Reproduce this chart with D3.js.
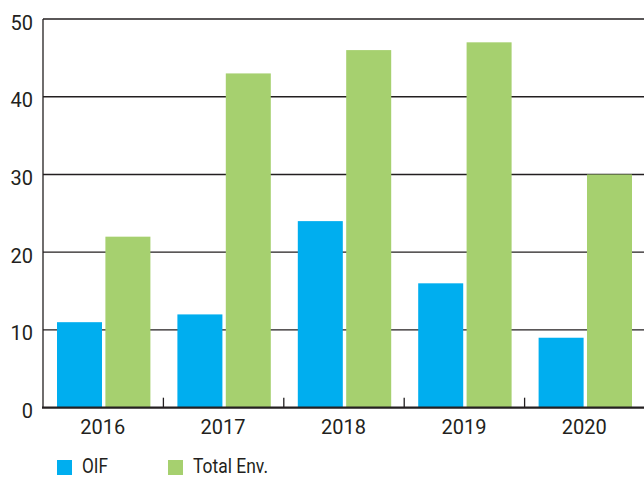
<!DOCTYPE html>
<meta charset="utf-8">
<style>
    body { margin: 0; background: #fff; }
    text { fill: #231f20; }
</style>
<svg width="644" height="477"></svg>
<script src="https://d3js.org/d3.v7.min.js"></script>
<script>

    var years = ["2016", "2017", "2018", "2019", "2020"];
    var oif = [11, 12, 24, 16, 9];
    var totalEnv = [22, 43, 46, 47, 30];
    var yTicks = [0, 10, 20, 30, 40, 50];
    var seriesNames = ["OIF", "Total Env."];
    var colors = ["#00aeef", "#a6d06f"];

    var font = "Roboto, 'Liberation Sans', sans-serif";

    var svg = d3.select("svg"),
        margin = {top: 19, left: 43, bottom: 69},
        height = +svg.attr("height") - margin.top - margin.bottom;

    var x = d3.scaleBand().domain(years).range([43, 645]);
    var y = d3.scaleLinear().domain([0, 50]).range([margin.top + height - 0.3, margin.top]);

    // inner scale for the two bars in each year
    var xs = d3.scaleBand().domain(seriesNames).range([14, x.bandwidth() - 13]).paddingInner(0.07);

    // gridlines
    svg.append("g").selectAll("line")
        .data(yTicks.slice(1))
        .join("line")
        .attr("x1", 43).attr("x2", 645)
        .attr("y1", function(d) { return y(d); })
        .attr("y2", function(d) { return y(d); })
        .attr("stroke", "#231f20")
        .attr("stroke-width", 1.3);

    var rows = years.map(function(yr, i) { return {year: yr, values: [oif[i], totalEnv[i]]}; });

    svg.append("g").selectAll("g")
        .data(rows)
        .join("g")
        .attr("transform", function(d) { return "translate(" + x(d.year) + ",0)"; })
        .selectAll("rect")
        .data(function(d) { return d.values.map(function(v, j) { return {name: seriesNames[j], value: v, c: colors[j]}; }); })
        .join("rect")
        .attr("x", function(d) { return xs(d.name); })
        .attr("width", xs.bandwidth())
        .attr("y", function(d) { return y(d.value); })
        .attr("height", function(d) { return y(0) - y(d.value); })
        .attr("fill", function(d) { return d.c; });

    // y axis line
    svg.append("line")
        .attr("x1", 43).attr("x2", 43)
        .attr("y1", y(50)).attr("y2", y(0))
        .attr("stroke", "#231f20").attr("stroke-width", 1.3);

    // baseline
    svg.append("line")
        .attr("x1", 42).attr("x2", 645)
        .attr("y1", y(0)).attr("y2", y(0))
        .attr("stroke", "#231f20").attr("stroke-width", 2.2);

    // category separator ticks
    svg.append("g").selectAll("line")
        .data(years.slice(1))
        .join("line")
        .attr("x1", function(d) { return x(d); })
        .attr("x2", function(d) { return x(d); })
        .attr("y1", y(0) - 10).attr("y2", y(0))
        .attr("stroke", "#231f20").attr("stroke-width", 1.3);

    // y labels
    svg.append("g").selectAll("text")
        .data(yTicks)
        .join("text")
        .attr("x", 33)
        .attr("y", function(d) { return y(d) + 10.5; })
        .attr("text-anchor", "end")
        .attr("font-family", font)
        .attr("font-size", 20)
        .text(function(d) { return d; });

    // x labels
    svg.append("g").selectAll("text")
        .data(years)
        .join("text")
        .attr("x", function(d) { return x(d) + x.bandwidth() / 2 - 0.5; })
        .attr("y", 433.5)
        .attr("text-anchor", "middle")
        .attr("font-family", font)
        .attr("font-size", 20)
        .text(function(d) { return d; });

    // legend
    var legendX = [57, 168];
    var legendW = [26, 75];
    var legend = svg.append("g").selectAll("g")
        .data(seriesNames)
        .join("g")
        .attr("transform", function(d, i) { return "translate(" + legendX[i] + ",460)"; });

    legend.append("rect")
        .attr("width", 15).attr("height", 15)
        .attr("fill", function(d, i) { return colors[i]; });

    legend.append("text")
        .attr("x", 25).attr("y", 12.5)
        .attr("font-family", font)
        .attr("font-size", 20)
        .attr("textLength", function(d, i) { return legendW[i]; })
        .attr("lengthAdjust", "spacingAndGlyphs")
        .text(function(d) { return d; });

</script>
